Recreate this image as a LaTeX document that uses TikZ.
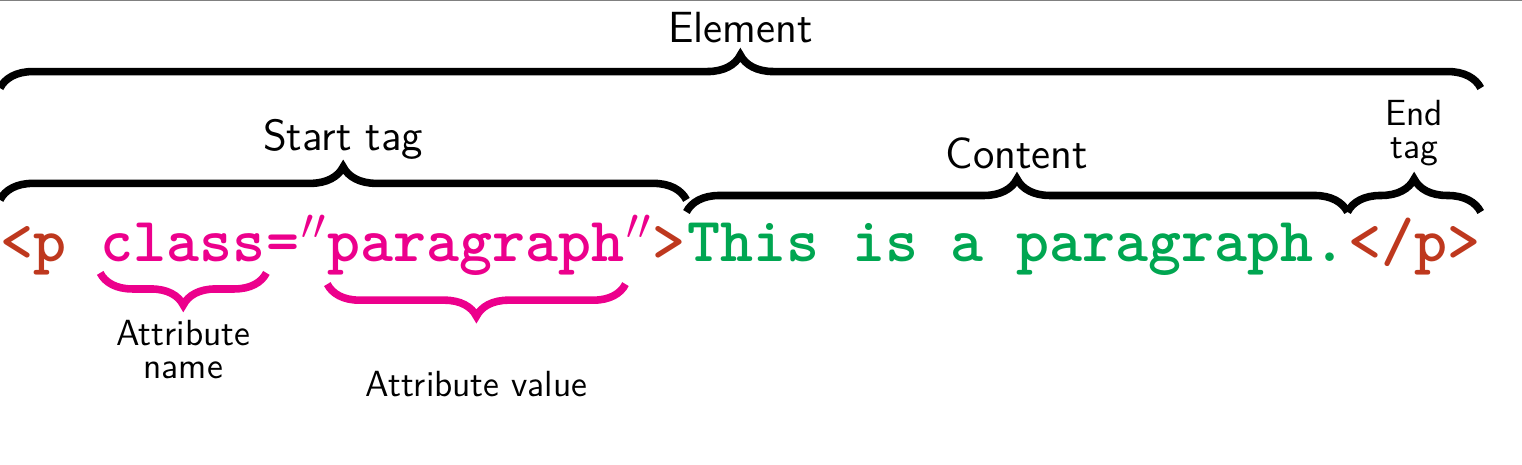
\documentclass[tikz,border=0pt]{standalone}
\usetikzlibrary{positioning}
\usetikzlibrary{decorations.pathreplacing}
\definecolor{tagred}{RGB}{190,56,30}
\definecolor{attrpink}{RGB}{236,0,140}
\definecolor{textgreen}{RGB}{0,166,81}
\tikzset{code/.style={inner sep=0pt, anchor=base west,
  font=\huge\ttfamily\bfseries},
 brc/.style={decorate, line width=2.5pt,
  decoration={brace, amplitude=10.9pt, raise=#1}},
 ubrc/.style={decorate, line width=2.5pt, draw=attrpink,
  decoration={brace, mirror, amplitude=10.6pt, raise=#1}},
 lbl/.style={inner sep=0pt, font=\Large\sffamily},
 slbl/.style={inner sep=0pt, font=\large\sffamily, align=center},
 }
\begin{document}
\begin{tikzpicture}[x=0.33pt, y=0.33pt]
        \useasboundingbox (0, 0) rectangle (1522, 464);
        \draw [gray, line width=0.6pt] (0, 463.5) -- (1522, 463.5);
        % the code line
        \node [code, tagred] (ptag) at (0, 202) {<p};
        \node [code, attrpink, xshift=10.89pt] (aname) at (ptag.base east) {class};
        \node [code, attrpink] (eq) at (aname.base east) {=};
        \node [code, attrpink] (q1) at (eq.base east) {$''$};
        \node [code, attrpink] (aval) at (q1.base east) {paragraph};
        \node [code, attrpink] (q2) at (aval.base east) {$''$};
        \node [code, tagred] (gt) at (q2.base east) {>};
        \node [code, textgreen] (content) at (gt.base east) {This is a paragraph.};
        \node [code, tagred] (etag) at (content.base east) {</p>};
        % braces over the code
        \draw [brc=57.4pt] (ptag.base west) -- (etag.base east)
            node [lbl, midway, above=71pt] (lelem) {Element};
        \draw [brc=20.5pt] (ptag.base west) -- (gt.base east)
            node [lbl, midway, above=32.5pt] (lstart) {Start tag};
        \draw [brc=16.5pt] (content.base west) -- (content.base east)
            node [lbl, midway, above=29.4pt] (lcont) {Content};
        \draw [brc=16.5pt] (etag.base west) -- (etag.base east)
            node [slbl, midway, above=30.4pt] (lend) {End\\[-3.2pt]tag};
        % braces under the attribute
        \draw [ubrc=3.6pt] (aname.base west) -- (aname.base east)
            node [slbl, midway, below=18pt] (lname) {Attribute\\[-3.2pt]name};
        \draw [ubrc=7.3pt] (aval.base west) -- (aval.base east)
            node [slbl, midway, below=34.9pt] (lval) {Attribute value};
    \end{tikzpicture}
\end{document}
